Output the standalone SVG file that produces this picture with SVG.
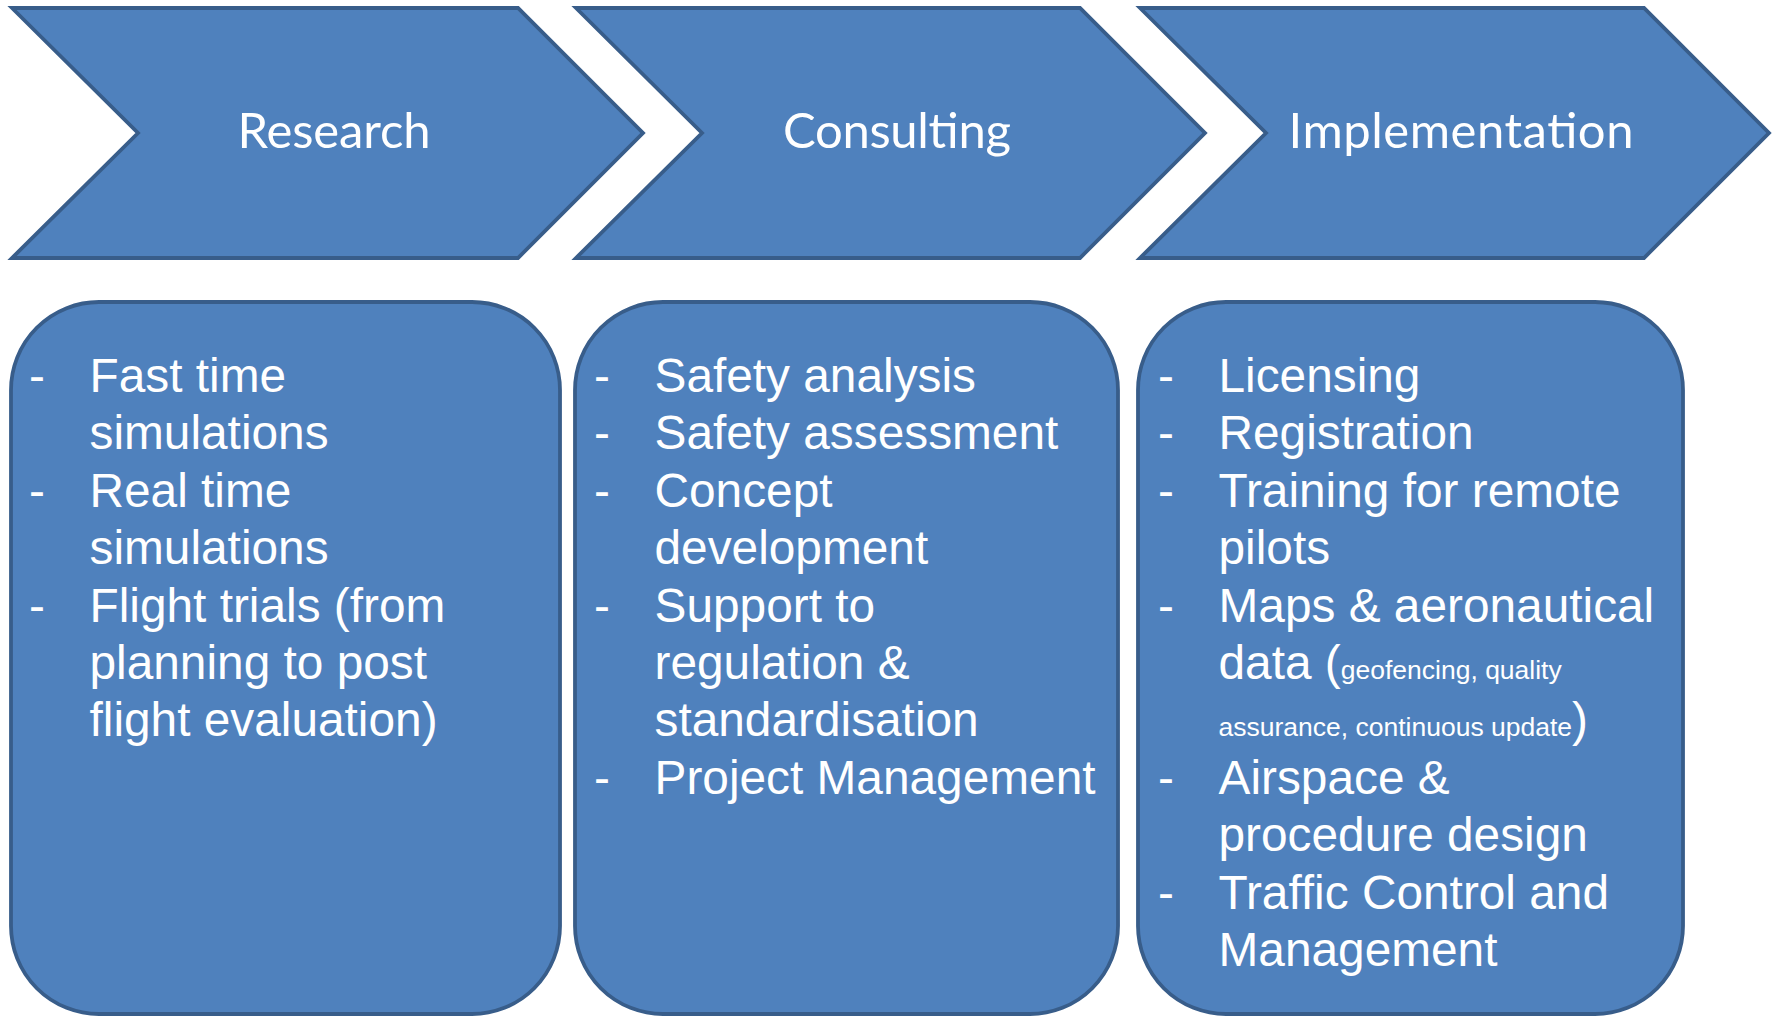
<svg xmlns="http://www.w3.org/2000/svg" width="1775" height="1017" viewBox="0 0 1775 1017">
<style>
.shape{fill:#4F81BD;stroke:#385D8A;stroke-width:3.8;stroke-linejoin:miter}
.title{font-family:Lato,"Open Sans",sans-serif;font-size:49px;fill:#FFFFFF;text-anchor:middle}
.item{font-family:"Liberation Sans",Arial,sans-serif;font-size:47.8px;fill:#FFFFFF}
.small{font-size:26.5px}
</style>
<rect width="1775" height="1017" fill="#FFFFFF"/>
<g id="chevron-research">
<polygon class="shape" points="12,8 518,8 643,133 518,258 12,258 138,133"/>
<text class="title" x="334" y="148" textLength="193" lengthAdjust="spacing">Research</text>
</g>
<g id="chevron-consulting">
<polygon class="shape" points="576,8 1080,8 1205,133 1080,258 576,258 702,133"/>
<text class="title" x="897" y="148" textLength="228" lengthAdjust="spacing">Consulting</text>
</g>
<g id="chevron-implementation">
<polygon class="shape" points="1140,8 1644,8 1769,133 1644,258 1140,258 1266,133"/>
<text class="title" x="1461" y="148" textLength="345" lengthAdjust="spacing">Implementation</text>
</g>
<g id="box-research">
<rect class="shape" x="11" y="302" width="549" height="712" rx="88" ry="88"/>
<text class="item" x="29" y="392">-</text>
<text class="item" x="89.5" y="392">Fast time</text>
<text class="item" x="89.5" y="449.4">simulations</text>
<text class="item" x="29" y="506.8">-</text>
<text class="item" x="89.5" y="506.8">Real time</text>
<text class="item" x="89.5" y="564.2">simulations</text>
<text class="item" x="29" y="621.6">-</text>
<text class="item" x="89.5" y="621.6">Flight trials (from</text>
<text class="item" x="89.5" y="679">planning to post</text>
<text class="item" x="89.5" y="736.4">flight evaluation)</text>
</g>
<g id="box-consulting">
<rect class="shape" x="575" y="302" width="543" height="712" rx="88" ry="88"/>
<text class="item" x="594" y="392">-</text>
<text class="item" x="654.5" y="392">Safety analysis</text>
<text class="item" x="594" y="449.4">-</text>
<text class="item" x="654.5" y="449.4">Safety assessment</text>
<text class="item" x="594" y="506.8">-</text>
<text class="item" x="654.5" y="506.8">Concept</text>
<text class="item" x="654.5" y="564.2">development</text>
<text class="item" x="594" y="621.6">-</text>
<text class="item" x="654.5" y="621.6">Support to</text>
<text class="item" x="654.5" y="679">regulation &amp;</text>
<text class="item" x="654.5" y="736.4">standardisation</text>
<text class="item" x="594" y="793.8">-</text>
<text class="item" x="654.5" y="793.8">Project Management</text>
</g>
<g id="box-implementation">
<rect class="shape" x="1138" y="302" width="545" height="712" rx="88" ry="88"/>
<text class="item" x="1158" y="392">-</text>
<text class="item" x="1218.5" y="392">Licensing</text>
<text class="item" x="1158" y="449.4">-</text>
<text class="item" x="1218.5" y="449.4">Registration</text>
<text class="item" x="1158" y="506.8">-</text>
<text class="item" x="1218.5" y="506.8">Training for remote</text>
<text class="item" x="1218.5" y="564.2">pilots</text>
<text class="item" x="1158" y="621.6">-</text>
<text class="item" x="1218.5" y="621.6">Maps &amp; aeronautical</text>
<text class="item" x="1218.5" y="679">data (<tspan class="small">geofencing, quality</tspan></text>
<text class="item" x="1218.5" y="736.4"><tspan class="small">assurance, continuous update</tspan>)</text>
<text class="item" x="1158" y="793.8">-</text>
<text class="item" x="1218.5" y="793.8">Airspace &amp;</text>
<text class="item" x="1218.5" y="851.2">procedure design</text>
<text class="item" x="1158" y="908.6">-</text>
<text class="item" x="1218.5" y="908.6">Traffic Control and</text>
<text class="item" x="1218.5" y="966">Management</text>
</g>
<g id="connectors"></g>
</svg>
